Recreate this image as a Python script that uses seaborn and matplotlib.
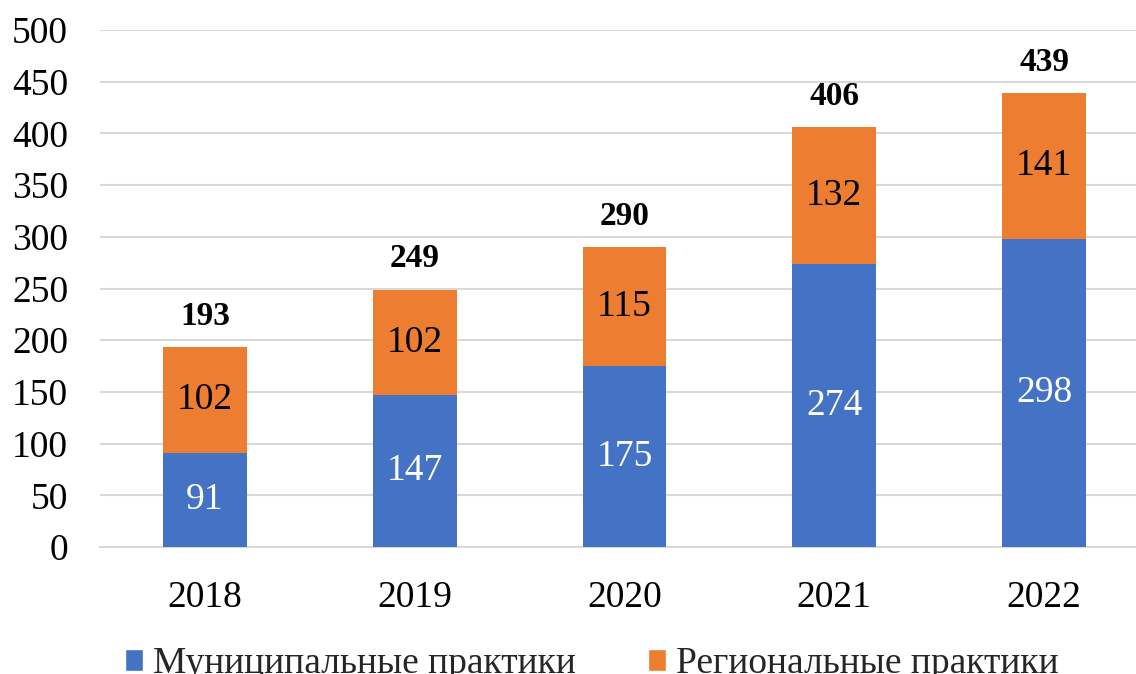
import matplotlib
matplotlib.use("Agg")
import matplotlib.pyplot as plt
import seaborn as sns
import pandas as pd
from matplotlib.patches import Patch

years = ["2018", "2019", "2020", "2021", "2022"]
municipal = [91, 147, 175, 274, 298]
regional = [102, 102, 115, 132, 141]
totals = [m + r for m, r in zip(municipal, regional)]
series_names = ["Муниципальные практики", "Региональные практики"]

BLUE = "#4472C4"
ORANGE = "#ED7D31"

sns.set_theme(style="white")
plt.rcParams["font.family"] = ["Liberation Serif", "DejaVu Serif"]

fig = plt.figure(figsize=(11.36, 6.74), dpi=100)
ax = fig.add_axes([100 / 1136, 127 / 674, 1049 / 1136, 517 / 674])

df = pd.DataFrame({"year": years, "municipal": municipal, "regional": regional, "total": totals})

sns.barplot(data=df, x="year", y="total", color=ORANGE, width=0.4, ax=ax,
            saturation=1, edgecolor="none", zorder=2)
sns.barplot(data=df, x="year", y="municipal", color=BLUE, width=0.4, ax=ax,
            saturation=1, edgecolor="none", zorder=3)

for i, (m, r, t) in enumerate(zip(municipal, regional, totals)):
    ax.text(i, m / 2, str(m), ha="center", va="center", color="white", fontsize=27, zorder=4)
    ax.text(i, m + r / 2, str(r), ha="center", va="center", color="black", fontsize=27, zorder=4)
    ax.text(i, t + 15, str(t), ha="center", va="bottom", color="black", fontsize=24,
            fontweight="bold", zorder=4)

ax.set_ylim(0, 500)
ax.set_xlim(-0.5, 4.5)
ax.set_yticks(range(0, 501, 50))
ax.yaxis.grid(True, color="#D9D9D9", linewidth=1.5, zorder=0)
ax.set_axisbelow(True)
for s in ["top", "right", "left"]:
    ax.spines[s].set_visible(False)
ax.spines["bottom"].set_color("#D9D9D9")
ax.spines["bottom"].set_linewidth(1.5)
ax.set_xlabel("")
ax.set_ylabel("")
ax.tick_params(axis="both", length=0, labelsize=27, colors="black")
ax.tick_params(axis="y", pad=23)
ax.tick_params(axis="x", pad=24)

handles = [Patch(facecolor=BLUE, label=series_names[0]), Patch(facecolor=ORANGE, label=series_names[1])]
fig.legend(handles=handles, loc="center", bbox_to_anchor=(0.521, 0.015), ncol=2, frameon=False,
           fontsize=27, handlelength=0.5, handleheight=0.5, handletextpad=0.27, columnspacing=1.9)

fig.savefig("out.png", dpi=100)
